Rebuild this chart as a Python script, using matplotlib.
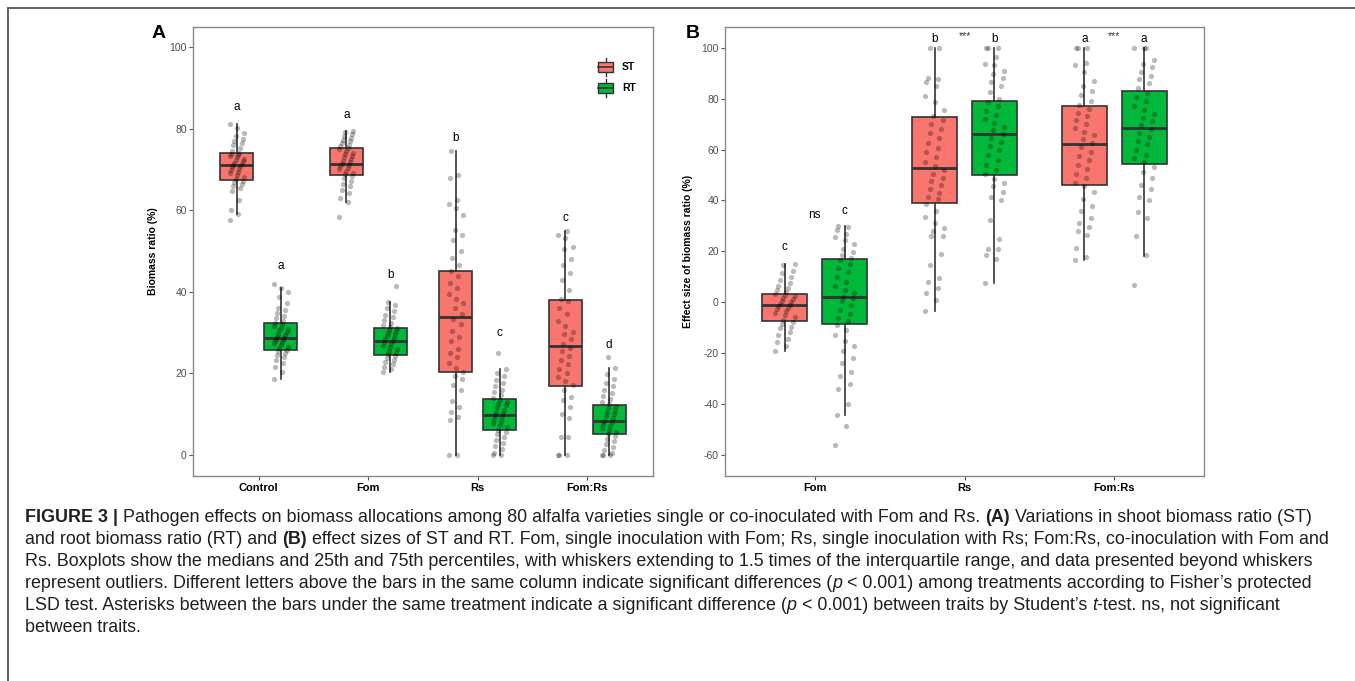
"""
boxplots of shoot / root biomass ratio for the alfalfa pathogen figure,
plus the figure caption underneath
"""

import numpy as np
import matplotlib
matplotlib.use("Agg")
import matplotlib.pyplot as plt
from matplotlib.patches import Rectangle
from matplotlib.lines import Line2D
from matplotlib.transforms import IdentityTransform

plt.rcParams['font.family'] = ['Liberation Sans', 'DejaVu Sans']
plt.rcParams['axes.unicode_minus'] = False

ST_COL = '#F8766D'
RT_COL = '#00B83A'
EDGE = '#333333'

# ---------------- panel A : biomass ratio ----------------
a_treat = ['Control', 'Fom', 'Rs', 'Fom:Rs']
# box stats: [whislo, q1, med, q3, whishi]
a_st_box = [[59.0, 67.4, 71.1, 73.9, 81.1],
            [62.1, 68.6, 71.4, 75.3, 79.5],
            [0.0, 20.4, 33.8, 45.1, 74.6],
            [0.0, 16.8, 26.8, 38.0, 54.9]]
a_rt_box = [[18.5, 25.8, 28.7, 32.2, 40.9],
            [20.4, 24.4, 28.0, 31.2, 37.4],
            [0.0, 6.2, 9.8, 13.7, 21.0],
            [0.0, 5.2, 8.2, 12.3, 21.4]]
a_st_pts = [
    [57.6, 59.0, 60.1, 62.5, 64.8, 65.3, 65.9, 66.4, 66.8, 67.2, 67.6, 68.0,
     68.5, 69.0, 69.4, 69.8, 70.2, 70.5, 70.9, 71.1, 71.3, 71.6, 72.0, 72.3,
     72.6, 72.9, 73.2, 73.5, 73.8, 74.1, 74.6, 75.2, 75.9, 76.5, 77.0, 77.4,
     78.1, 79.0, 80.2, 81.1],
    [58.3, 62.1, 63.0, 64.2, 65.0, 65.8, 66.5, 67.2, 67.8, 68.3, 68.8, 69.2,
     69.6, 70.0, 70.4, 70.8, 71.1, 71.4, 71.7, 72.1, 72.5, 72.9, 73.3, 73.7,
     74.1, 74.5, 74.9, 75.2, 75.6, 76.0, 76.4, 76.9, 77.3, 77.8, 78.2, 78.7,
     79.2, 79.5],
    [0.0, 0.0, 8.5, 9.2, 10.4, 11.8, 13.1, 15.9, 17.2, 18.5, 19.4, 20.2, 21.3,
     22.5, 24.1, 25.0, 26.0, 27.8, 29.0, 30.3, 32.0, 33.2, 34.5, 36.0, 37.3,
     38.1, 39.5, 41.0, 42.2, 43.8, 45.0, 46.5, 48.2, 50.0, 52.6, 53.8, 55.2,
     58.8, 60.6, 61.4, 62.4, 67.8, 68.6, 74.6],
    [0.0, 0.0, 0.0, 4.3, 4.4, 9.0, 10.0, 11.8, 13.5, 14.2, 15.8, 17.0, 18.0,
     19.0, 20.1, 21.0, 22.3, 23.2, 24.3, 25.5, 26.3, 27.2, 28.4, 29.5, 30.2,
     31.5, 32.8, 34.5, 36.0, 37.6, 38.2, 40.5, 42.8, 44.6, 46.5, 48.0, 50.5,
     51.0, 53.2, 54.0, 54.9]]
a_rt_pts = [
    [18.5, 20.3, 21.5, 22.4, 23.2, 23.9, 24.5, 25.0, 25.4, 25.8, 26.1, 26.5,
     26.9, 27.3, 27.6, 27.9, 28.2, 28.5, 28.7, 28.9, 29.3, 29.7, 30.1, 30.5,
     30.8, 31.2, 31.6, 32.0, 32.3, 32.9, 33.5, 34.1, 34.8, 35.4, 36.0, 37.2,
     38.6, 40.0, 40.9, 42.0],
    [20.4, 21.0, 21.6, 22.2, 22.8, 23.3, 23.8, 24.2, 24.6, 25.0, 25.5, 26.0,
     26.4, 26.8, 27.2, 27.6, 28.0, 28.3, 28.7, 29.1, 29.5, 29.9, 30.3, 30.7,
     31.0, 31.4, 31.9, 32.4, 33.0, 33.7, 34.4, 35.2, 36.0, 36.8, 37.4, 41.3],
    [0.0, 0.0, 0.5, 1.4, 2.2, 3.0, 3.7, 4.4, 5.0, 5.6, 6.2, 6.8, 7.3, 7.8,
     8.3, 8.8, 9.3, 9.8, 10.2, 10.6, 11.1, 11.6, 12.1, 12.5, 13.0, 13.5, 14.0,
     14.6, 15.3, 16.0, 16.8, 17.5, 18.3, 19.2, 20.0, 21.0, 25.0],
    [0.0, 0.0, 0.0, 0.4, 1.2, 1.9, 2.6, 3.3, 3.9, 4.5, 5.1, 5.6, 6.1, 6.6,
     7.1, 7.6, 8.0, 8.4, 8.9, 9.4, 9.9, 10.4, 10.9, 11.4, 11.9, 12.4, 13.0,
     13.7, 14.4, 15.2, 16.0, 16.9, 17.7, 18.6, 19.9, 21.4, 24.1]]
a_st_let = ['a', 'a', 'b', 'c']
a_st_let_y = [85.2, 83.2, 77.7, 58.0]
a_rt_let = ['a', 'b', 'c', 'd']
a_rt_let_y = [46.2, 44.2, 29.8, 27.0]

# ---------------- panel B : effect size ----------------
b_treat = ['Fom', 'Rs', 'Fom:Rs']
b_st_box = [[-19.0, -7.2, -1.0, 3.3, 15.0],
            [-3.3, 38.9, 52.7, 72.6, 100.0],
            [16.6, 46.1, 62.3, 76.9, 100.0]]
b_rt_box = [[-44.3, -8.4, 2.2, 16.9, 30.0],
            [7.7, 49.9, 65.9, 79.2, 100.0],
            [18.3, 54.4, 68.5, 83.0, 100.0]]
b_st_pts = [
    [-19.0, -17.0, -15.6, -14.3, -13.0, -11.5, -10.2, -9.5, -8.6, -7.6, -6.8,
     -5.9, -5.0, -4.2, -3.5, -2.8, -2.1, -1.5, -1.0, -0.5, 0.0, 0.6, 1.2, 1.8,
     2.3, 2.8, 3.3, 4.0, 4.8, 5.6, 6.5, 7.5, 8.7, 10.0, 11.4, 12.3, 14.6, 15.0],
    [-3.3, 1.0, 3.5, 5.5, 8.0, 9.5, 14.8, 19.0, 26.0, 26.0, 28.0, 29.0, 31.0,
     33.5, 36.0, 38.5, 40.5, 41.5, 43.0, 44.5, 46.0, 47.5, 49.0, 50.5, 52.0,
     53.5, 55.0, 57.0, 59.0, 60.5, 62.5, 64.5, 66.5, 68.0, 70.0, 71.5, 73.0,
     75.5, 78.5, 81.0, 85.0, 86.5, 87.5, 88.0, 100.0, 100.0],
    [16.6, 17.8, 21.5, 26.5, 28.0, 29.5, 31.0, 33.0, 36.0, 38.0, 40.5, 43.5,
     45.5, 47.0, 49.0, 50.5, 52.5, 54.0, 56.0, 57.5, 59.0, 61.0, 62.5, 64.0,
     65.5, 67.0, 68.5, 70.0, 71.5, 73.0, 74.5, 76.0, 77.5, 79.0, 81.5, 83.0,
     85.0, 87.0, 90.5, 93.0, 94.0, 100.0, 100.0, 100.0]]
b_rt_pts = [
    [-56.0, -48.5, -44.3, -40.0, -34.0, -32.0, -29.0, -27.5, -24.0, -22.0,
     -19.0, -17.0, -15.0, -13.0, -11.0, -9.0, -7.5, -6.0, -4.5, -3.0, -1.0,
     0.5, 1.5, 2.2, 3.5, 5.0, 6.5, 8.0, 10.0, 12.0, 13.5, 15.0, 16.5, 17.5,
     18.5, 19.8, 21.0, 23.0, 24.5, 25.5, 27.0, 28.5, 29.5, 30.0],
    [7.7, 17.0, 18.5, 21.0, 21.0, 25.0, 32.5, 40.0, 41.5, 43.5, 45.5, 47.0,
     48.5, 50.5, 52.0, 54.0, 56.0, 58.0, 60.0, 61.5, 63.0, 64.5, 66.0, 67.5,
     69.0, 70.5, 72.0, 73.5, 75.0, 77.0, 78.5, 80.0, 82.5, 85.0, 86.5, 88.0,
     89.5, 91.0, 93.0, 93.5, 96.5, 100.0, 100.0, 100.0],
    [6.7, 18.5, 26.0, 33.0, 35.5, 40.0, 41.5, 44.5, 46.0, 49.0, 51.0, 53.0,
     55.0, 56.5, 58.0, 60.0, 62.0, 63.5, 65.0, 66.5, 68.0, 69.5, 71.0, 72.5,
     74.0, 75.5, 77.0, 79.0, 80.5, 82.0, 84.0, 86.0, 87.5, 89.0, 90.5, 92.5,
     93.5, 95.0, 100.0, 100.0, 100.0]]
b_st_let = ['c', 'b', 'a']
b_st_let_y = [21.9, 103.5, 103.5]
b_rt_let = ['c', 'b', 'a']
b_rt_let_y = [36.0, 103.5, 103.5]
b_mid_let = ['ns', '***', '***']
b_mid_let_y = [34.3, 104.7, 104.7]


def jitter(n):
    """fixed spread of x offsets so the dots don't pile on one line"""
    return 0.065 * ((np.arange(n) * 7 % 13) / 6.0 - 1.0)


def drawPanel(ax, treats, st_box, rt_box, st_pts, rt_pts):
    for i in range(len(treats)):
        for off, box, pts, col in [(-0.2, st_box[i], st_pts[i], ST_COL),
                                   (0.2, rt_box[i], rt_pts[i], RT_COL)]:
            x = i + 1 + off
            stats = dict(whislo=box[0], q1=box[1], med=box[2], q3=box[3],
                         whishi=box[4], fliers=[])
            ax.bxp([stats], positions=[x], widths=0.3, patch_artist=True,
                   showcaps=False, showfliers=False, manage_ticks=False,
                   boxprops=dict(facecolor=col, edgecolor=EDGE, lw=1.2),
                   whiskerprops=dict(color=EDGE, lw=1.2),
                   medianprops=dict(color=EDGE, lw=2))
            ax.plot(x + jitter(len(pts)), pts, 'o', ms=3.8, color='black',
                    alpha=0.27, mec='none', zorder=4)
    ax.set_xticks(range(1, len(treats) + 1))
    ax.set_xticklabels(treats, fontweight='bold', fontsize=8, color='black')
    ax.set_xlim(0.4, len(treats) + 0.6)
    ax.tick_params(axis='both', length=3, width=0.8, color='#555555')
    ax.tick_params(axis='y', labelsize=7.5, labelcolor='#4d4d4d', pad=1.5)
    ax.tick_params(axis='x', pad=2)
    for s in ax.spines.values():
        s.set_color('#8a8a8a')
        s.set_linewidth(1.0)


def drawRuns(fig, x, y, runs, size):
    """write a line made of runs of differently styled text, in pixels"""
    r = fig.canvas.get_renderer()
    probe1 = fig.text(0, 0, 'a a', fontsize=size)
    probe2 = fig.text(0, 0, 'aa', fontsize=size)
    sp = (probe1.get_window_extent(r).width -
          probe2.get_window_extent(r).width)
    probe1.remove()
    probe2.remove()
    for txt, w, st in runs:
        lead = len(txt) - len(txt.lstrip(' '))
        trail = len(txt) - len(txt.rstrip(' '))
        x += lead * sp
        core = txt.strip(' ')
        if core:
            t = fig.text(x, y, core, fontsize=size, fontweight=w,
                         fontstyle=st, color='#231f20', va='center',
                         transform=IdentityTransform())
            x += t.get_window_extent(r).width
        x += trail * sp


def main():
    W, H = 1355, 681
    fig = plt.figure(figsize=(W / 100, H / 100), dpi=100)

    # panel A
    axA = fig.add_axes([193 / W, 1 - 476 / H, 460 / W, 449 / H])
    drawPanel(axA, a_treat, a_st_box, a_rt_box, a_st_pts, a_rt_pts)
    axA.set_ylim(-5.2, 104.9)
    axA.set_yticks([0, 20, 40, 60, 80, 100])
    axA.set_ylabel('Biomass ratio (%)', fontweight='bold', fontsize=7.5)
    axA.yaxis.set_label_coords(-0.076, 0.5)
    for i in range(len(a_treat)):
        axA.text(i + 0.8, a_st_let_y[i], a_st_let[i], ha='center',
                 va='center', fontsize=8.5)
        axA.text(i + 1.2, a_rt_let_y[i], a_rt_let[i], ha='center',
                 va='center', fontsize=8.5)
    # legend keys, ggplot style
    for yk, col, lab in [(0.911, ST_COL, 'ST'), (0.864, RT_COL, 'RT')]:
        axA.add_patch(Rectangle((0.880, yk - 0.012), 0.034, 0.024,
                                transform=axA.transAxes, facecolor=col,
                                edgecolor=EDGE, lw=1.0, zorder=5))
        axA.add_line(Line2D([0.880, 0.914], [yk, yk], color=EDGE, lw=1.2,
                            transform=axA.transAxes, zorder=6))
        axA.add_line(Line2D([0.897, 0.897], [yk + 0.012, yk + 0.02],
                            color=EDGE, lw=1.0, transform=axA.transAxes))
        axA.add_line(Line2D([0.897, 0.897], [yk - 0.012, yk - 0.02],
                            color=EDGE, lw=1.0, transform=axA.transAxes))
        axA.text(0.933, yk, lab, transform=axA.transAxes, fontsize=7.5,
                 fontweight='bold', va='center')

    # panel B
    axB = fig.add_axes([725 / W, 1 - 476 / H, 479 / W, 449 / H])
    drawPanel(axB, b_treat, b_st_box, b_rt_box, b_st_pts, b_rt_pts)
    axB.set_ylim(-68.2, 108.1)
    axB.set_yticks([-60, -40, -20, 0, 20, 40, 60, 80, 100])
    axB.set_ylabel('Effect size of biomass ratio (%)', fontweight='bold',
                   fontsize=7.5)
    axB.yaxis.set_label_coords(-0.067, 0.5)
    for i in range(len(b_treat)):
        axB.text(i + 0.8, b_st_let_y[i], b_st_let[i], ha='center',
                 va='center', fontsize=8.5)
        axB.text(i + 1.2, b_rt_let_y[i], b_rt_let[i], ha='center',
                 va='center', fontsize=8.5)
        if b_mid_let[i] == 'ns':
            axB.text(i + 1, b_mid_let_y[i], 'ns', ha='center', va='center',
                     fontsize=8.5)
        else:
            axB.text(i + 1, b_mid_let_y[i], b_mid_let[i], ha='center',
                     va='center', fontsize=7.5, color='#333333')

    fig.text(159 / W, 1 - 33 / H, 'A', fontsize=14, fontweight='bold',
             ha='center', va='center')
    fig.text(693 / W, 1 - 33 / H, 'B', fontsize=14, fontweight='bold',
             ha='center', va='center')

    # outer frame (left and top only)
    fig.add_artist(Line2D([8 / W, 8 / W], [0, 1 - 8 / H], color='#555555',
                          lw=1.3, transform=fig.transFigure))
    fig.add_artist(Line2D([8 / W, 1], [1 - 8 / H, 1 - 8 / H],
                          color='#555555', lw=1.3, transform=fig.transFigure))

    # caption
    N, B, I = 'normal', 'bold', 'italic'
    lines = [
        [('FIGURE 3 | ', B, N),
         ('Pathogen effects on biomass allocations among 80 alfalfa '
          'varieties single or co-inoculated with Fom and Rs. ', N, N),
         ('(A)', B, N), (' Variations in shoot biomass ratio (ST)', N, N)],
        [('and root biomass ratio (RT) and ', N, N), ('(B)', B, N),
         (' effect sizes of ST and RT. Fom, single inoculation with Fom; Rs, '
          'single inoculation with Rs; Fom:Rs, co-inoculation with Fom and',
          N, N)],
        [('Rs. Boxplots show the medians and 25th and 75th percentiles, with '
          'whiskers extending to 1.5 times of the interquartile range, and '
          'data presented beyond whiskers', N, N)],
        [('represent outliers. Different letters above the bars in the same '
          'column indicate significant differences (', N, N), ('p', N, I),
         (' < 0.001) among treatments according to Fisher\u2019s protected',
          N, N)],
        [('LSD test. Asterisks between the bars under the same treatment '
          'indicate a significant difference (', N, N), ('p', N, I),
         (' < 0.001) between traits by Student\u2019s ', N, N), ('t', N, I),
         ('-test. ns, not significant', N, N)],
        [('between traits.', N, N)],
    ]
    for k, runs in enumerate(lines):
        drawRuns(fig, 25, H - (517 + 22 * k), runs, 12.9)

    plt.savefig("out.png", dpi=100)


main()
